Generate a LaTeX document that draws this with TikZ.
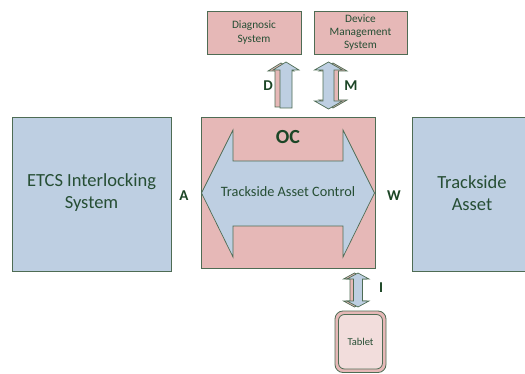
\documentclass[tikz,border=0pt]{standalone}
\usepackage{fontspec}
\setmainfont{Carlito}
\definecolor{bluefill}{RGB}{190,207,226}
\definecolor{pinkfill}{RGB}{230,184,183}
\definecolor{lightpink}{RGB}{242,221,220}
\definecolor{edgegreen}{RGB}{78,108,84}
\definecolor{txtgreen}{RGB}{38,78,52}
\definecolor{lblgreen}{RGB}{28,70,38}
\newcommand{\blkup}[7]{%
  \draw[#7] (#1,#2) -- (#1+#4,#2+#6) -- (#1+#5,#2+#6) -- (#1+#5,#3) -- (#1-#5,#3) -- (#1-#5,#2+#6) -- (#1-#4,#2+#6) -- cycle;}
\newcommand{\blkud}[7]{%
  \draw[#7] (#1,#2) -- (#1+#4,#2+#6) -- (#1+#5,#2+#6) -- (#1+#5,#3-#6) -- (#1+#4,#3-#6) -- (#1,#3) -- (#1-#4,#3-#6) -- (#1-#5,#3-#6) -- (#1-#5,#2+#6) -- (#1-#4,#2+#6) -- cycle;}
\tikzset{
  bluebox/.style={draw=edgegreen, fill=bluefill, line width=0.8pt},
  pinkbox/.style={draw=edgegreen, fill=pinkfill, line width=0.8pt},
  bluearr/.style={draw=edgegreen, fill=bluefill, line width=0.7pt, line join=miter},
  pinkarr/.style={draw=edgegreen, fill=pinkfill, line width=0.7pt, line join=miter},
  bigtxt/.style={text=txtgreen, font=\fontsize{18.5}{22}\selectfont, align=center},
  smalltxt/.style={text=txtgreen, font=\fontsize{11.3}{13.3}\selectfont, align=center},
  lbl/.style={text=lblgreen, font=\fontsize{15}{18}\selectfont\bfseries},
}
\begin{document}
\begin{tikzpicture}[x=1pt,y=-1pt]
\useasboundingbox (0,0) rectangle (525,374);
\clip (0,0) rectangle (525,374);
\fill[white] (0,0) rectangle (525,374);
% main boxes
\draw[bluebox] (12,117) rectangle (171,271);
\node[bigtxt] (etcs) at (91.5,193) {ETCS Interlocking\\System};
\draw[pinkbox] (201,117) rectangle (375,268);
\draw[bluebox] (412,117) rectangle (530,271);
\node[bigtxt] (asset) at (472,193) {Trackside\\Asset};
% big double arrow
\draw[bluearr] (201.5,193) -- (233,130) -- (233,161) -- (343,161) -- (343,130) -- (374.5,193)
  -- (343,257) -- (343,226) -- (233,226) -- (233,257) -- cycle;
\node[text=lblgreen, font=\fontsize{20}{24}\selectfont\bfseries] (oc) at (288,137) {OC};
\node[text=txtgreen, font=\fontsize{14.3}{17}\selectfont] (tac) at (288,192) {Trackside Asset Control};
% labels
\node[lbl] (la) at (184,196) {A};
\node[lbl] (lw) at (394,196) {W};
\node[lbl] (ld) at (268,86) {D};
\node[lbl] (lm) at (351,86) {M};
\node[lbl] (li) at (381,288) {I};
% top boxes
\draw[pinkbox] (207,11) rectangle (301,54);
\node[smalltxt] (diag) at (254,32.5) {Diagnosic\\System};
\draw[pinkbox] (314,11) rectangle (407,54);
\node[smalltxt] (dms) at (360.5,32.5) {Device\\Management\\System};
% small arrows
\blkup{281}{63}{107}{13}{6}{8}{pinkarr}
\blkup{286}{62}{108}{13}{6}{8}{bluearr}
\blkud{333}{63}{108}{14}{5.5}{8}{pinkarr}
\blkud{328.5}{62}{109}{14}{5.5}{8}{bluearr}
\blkud{354.5}{273}{307}{11}{4.5}{6}{pinkarr}
\blkud{358}{273}{307}{11}{4.5}{6}{bluearr}
% tablet
\draw[edgegreen, fill=pinkfill, line width=0.8pt, rounded corners=8pt] (335,311) rectangle (386,372.5);
\draw[edgegreen, fill=lightpink, line width=0.8pt, rounded corners=6pt] (338.5,314.5) rectangle (382.5,369);
\node[smalltxt, font=\fontsize{10.5}{12}\selectfont] (tablet) at (360.5,342) {Tablet};
\end{tikzpicture}
\end{document}
